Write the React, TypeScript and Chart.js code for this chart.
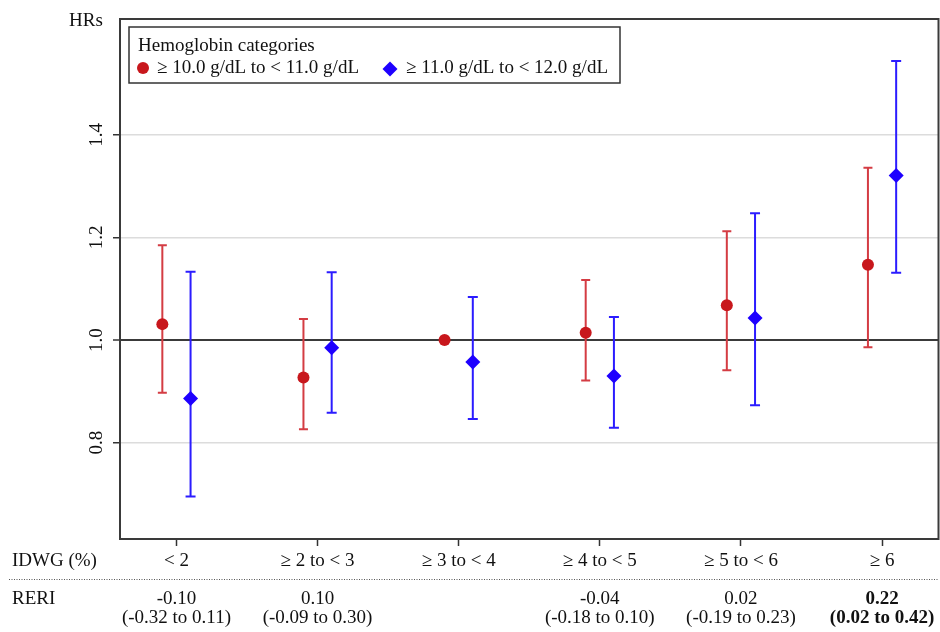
import React, { useEffect, useRef } from 'react';
import { Chart, registerables } from 'chart.js';

Chart.register(...registerables);

// ---- data ----
const categories = ['< 2', '≥ 2 to < 3', '≥ 3 to < 4', '≥ 4 to < 5', '≥ 5 to < 6', '≥ 6'];
const seriesNames = ['≥ 10.0 g/dL to < 11.0 g/dL', '≥ 11.0 g/dL to < 12.0 g/dL'];
const legendTitle = 'Hemoglobin categories';

const redHR = [1.031, 0.927, 1.0, 1.014, 1.068, 1.147];
const redLo = [0.897, 0.826, null, 0.921, 0.941, 0.986];
const redHi = [1.185, 1.041, null, 1.117, 1.212, 1.336];

const blueHR = [0.886, 0.985, 0.957, 0.93, 1.043, 1.321];
const blueLo = [0.695, 0.858, 0.846, 0.829, 0.873, 1.131];
const blueHi = [1.133, 1.132, 1.084, 1.045, 1.247, 1.544];

const yTickValues = [0.8, 1.0, 1.2, 1.4];
const yTickLabels = ['0.8', '1.0', '1.2', '1.4'];
const yAxisTitle = 'HRs';
const xAxisTitle = 'IDWG (%)';

const reriTitle = 'RERI';
const reriValues = ['-0.10', '0.10', '', '-0.04', '0.02', '0.22'];
const reriCIs = ['(-0.32 to 0.11)', '(-0.09 to 0.30)', '', '(-0.18 to 0.10)', '(-0.19 to 0.23)', '(0.02 to 0.42)'];
const reriBold = [false, false, false, false, false, true];

const groupOffsets = [-0.1, 0.1];

// ---- style ----
const FONT = '"Liberation Serif", "Times New Roman", serif';
const FS = 19;
const TEXT = '#111';
const RED = '#c8171c';
const RED_BAR = '#d43c43';
const BLUE = '#1e00ff';
const BLUE_BAR = '#2b1cff';

function drawDiamond(ctx: CanvasRenderingContext2D, x: number, y: number, r: number) {
  ctx.beginPath();
  ctx.moveTo(x, y - r);
  ctx.lineTo(x + r, y);
  ctx.lineTo(x, y + r);
  ctx.lineTo(x - r, y);
  ctx.closePath();
  ctx.fill();
}

const customPlugin = {
  id: 'customDecor',
  beforeDatasetsDraw(chart: any) {
    const ctx: CanvasRenderingContext2D = chart.ctx;
    const ys = chart.scales.y;
    chart.data.datasets.forEach((ds: any, di: number) => {
      const meta = chart.getDatasetMeta(di);
      ctx.save();
      ctx.strokeStyle = ds.barColor;
      ctx.lineWidth = 2;
      meta.data.forEach((pt: any, i: number) => {
        const lo = ds.lo[i];
        const hi = ds.hi[i];
        if (lo == null || hi == null) return;
        const x = pt.x;
        const y1 = ys.getPixelForValue(lo);
        const y2 = ys.getPixelForValue(hi);
        const cap = ds.capHalf;
        ctx.beginPath();
        ctx.moveTo(x, y1);
        ctx.lineTo(x, y2);
        ctx.moveTo(x - cap, y1);
        ctx.lineTo(x + cap, y1);
        ctx.moveTo(x - cap, y2);
        ctx.lineTo(x + cap, y2);
        ctx.stroke();
      });
      ctx.restore();
    });
  },
  afterDraw(chart: any) {
    const ctx: CanvasRenderingContext2D = chart.ctx;
    const ca = chart.chartArea;
    const xs = chart.scales.x;
    const ys = chart.scales.y;
    const W = chart.width;
    ctx.save();

    // plot frame
    ctx.strokeStyle = '#3a3a3a';
    ctx.lineWidth = 2;
    ctx.strokeRect(ca.left, ca.top, ca.right - ca.left, ca.bottom - ca.top);

    ctx.fillStyle = TEXT;
    ctx.font = `${FS}px ${FONT}`;

    // y axis title
    ctx.textAlign = 'left';
    ctx.textBaseline = 'alphabetic';
    ctx.fillText(yAxisTitle, 69, 26);

    // y tick labels (rotated)
    yTickValues.forEach((v, i) => {
      const py = ys.getPixelForValue(v);
      ctx.save();
      ctx.translate(ca.left - 18, py);
      ctx.rotate(-Math.PI / 2);
      ctx.textAlign = 'center';
      ctx.textBaseline = 'alphabetic';
      ctx.fillText(yTickLabels[i], 0, 0);
      ctx.restore();
    });

    // x tick labels
    const labelY = ca.bottom + 27;
    ctx.textAlign = 'center';
    categories.forEach((c, i) => {
      ctx.fillText(c, xs.getPixelForValue(i), labelY);
    });
    ctx.textAlign = 'left';
    ctx.fillText(xAxisTitle, 12, labelY);

    // dotted separator
    ctx.save();
    ctx.strokeStyle = '#555';
    ctx.lineWidth = 1;
    ctx.setLineDash([1, 1.5]);
    ctx.beginPath();
    ctx.moveTo(9, ca.bottom + 40.5);
    ctx.lineTo(W - 2, ca.bottom + 40.5);
    ctx.stroke();
    ctx.restore();

    // RERI rows
    ctx.textAlign = 'left';
    ctx.fillText(reriTitle, 12, ca.bottom + 65);
    categories.forEach((_, i) => {
      const bold = reriBold[i];
      ctx.font = `${bold ? 'bold ' : ''}${FS}px ${FONT}`;
      const w = Math.max(ctx.measureText(reriValues[i]).width, ctx.measureText(reriCIs[i]).width);
      let cx = xs.getPixelForValue(i);
      if (cx + w / 2 > W - 4) cx = W - 4 - w / 2;
      ctx.textAlign = 'center';
      ctx.fillText(reriValues[i], cx, ca.bottom + 65);
      ctx.fillText(reriCIs[i], cx, ca.bottom + 84);
    });
    ctx.font = `${FS}px ${FONT}`;

    // legend
    const lx = ca.left + 9, ly = 27, lw = 491, lh = 56;
    ctx.fillStyle = '#fff';
    ctx.fillRect(lx, ly, lw, lh);
    ctx.strokeStyle = '#333';
    ctx.lineWidth = 1.5;
    ctx.strokeRect(lx, ly, lw, lh);
    ctx.fillStyle = TEXT;
    ctx.textAlign = 'left';
    ctx.fillText(legendTitle, lx + 9, ly + 24);
    const ds = chart.data.datasets;
    // item 1
    ctx.fillStyle = ds[0].pointBackgroundColor;
    ctx.beginPath();
    ctx.arc(lx + 14, ly + 41, 6, 0, Math.PI * 2);
    ctx.fill();
    ctx.fillStyle = TEXT;
    ctx.fillText(seriesNames[0], lx + 28, ly + 46);
    // item 2
    ctx.fillStyle = ds[1].pointBackgroundColor;
    drawDiamond(ctx, lx + 261, ly + 42, 7.5);
    ctx.fillStyle = TEXT;
    ctx.fillText(seriesNames[1], lx + 277, ly + 46);

    ctx.restore();
  },
};

export default function App() {
  const ref = useRef<HTMLCanvasElement | null>(null);
  useEffect(() => {
    document.body.style.margin = '0';
    const canvas = ref.current;
    if (!canvas) return;
    const chart = new Chart(canvas, {
      type: 'scatter',
      data: {
        datasets: [
          {
            label: seriesNames[0],
            data: redHR.map((v, i) => ({ x: i + groupOffsets[0], y: v })),
            pointStyle: 'circle',
            pointRadius: 6,
            pointHoverRadius: 6,
            pointBackgroundColor: RED,
            pointBorderColor: RED,
            pointBorderWidth: 0,
            showLine: false,
            lo: redLo,
            hi: redHi,
            barColor: RED_BAR,
            capHalf: 4.5,
          } as any,
          {
            label: seriesNames[1],
            data: blueHR.map((v, i) => ({ x: i + groupOffsets[1], y: v })),
            pointStyle: 'rectRot',
            pointRadius: 7.5,
            pointHoverRadius: 7.5,
            pointBackgroundColor: BLUE,
            pointBorderColor: BLUE,
            pointBorderWidth: 0,
            showLine: false,
            lo: blueLo,
            hi: blueHi,
            barColor: BLUE_BAR,
            capHalf: 5,
          } as any,
        ],
      },
      options: {
        responsive: false,
        animation: false,
        devicePixelRatio: 1,
        layout: { autoPadding: false, padding: { left: 0, top: 19, right: 1.5, bottom: 0 } },
        plugins: {
          legend: { display: false },
          tooltip: { enabled: false },
        },
        scales: {
          x: {
            type: 'linear',
            min: -0.4,
            max: 5.4,
            afterBuildTicks: (s: any) => {
              s.ticks = categories.map((_, i) => ({ value: i }));
            },
            afterFit: (s: any) => {
              s.height = 93;
            },
            ticks: { display: false },
            grid: {
              drawOnChartArea: false,
              drawTicks: true,
              tickLength: 7,
              tickColor: '#333',
              tickWidth: 1.5,
            },
            border: { display: false },
          },
          y: {
            type: 'linear',
            min: 0.612,
            max: 1.626,
            afterBuildTicks: (s: any) => {
              s.ticks = yTickValues.map((v) => ({ value: v }));
            },
            afterFit: (s: any) => {
              s.width = 120;
            },
            ticks: { display: false },
            grid: {
              drawTicks: true,
              tickLength: 7,
              tickColor: '#333',
              tickWidth: 1.5,
              color: (c: any) => (c.tick && Math.abs(c.tick.value - 1) < 1e-9 ? '#3a3a3a' : '#dcdcdc'),
              lineWidth: (c: any) => (c.tick && Math.abs(c.tick.value - 1) < 1e-9 ? 2 : 1.5),
            },
            border: { display: false },
          },
        },
      } as any,
      plugins: [customPlugin],
    });
    return () => chart.destroy();
  }, []);

  return (
    <div style={{ width: 940, height: 632, background: '#fff' }}>
      <canvas ref={ref} width={940} height={632} style={{ display: 'block' }} />
    </div>
  );
}
